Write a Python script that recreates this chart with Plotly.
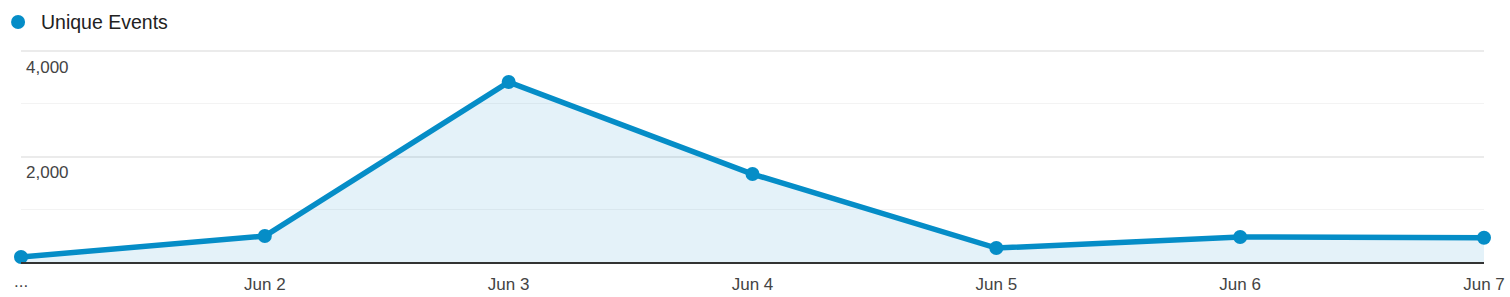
import plotly.graph_objects as go

categories = ["...", "Jun 2", "Jun 3", "Jun 4", "Jun 5", "Jun 6", "Jun 7"]
unique_events = [95, 493, 3412, 1668, 265, 474, 460]
y_tick_values = [2000, 4000]
y_tick_labels = ["2,000", "4,000"]
minor_grid_values = [1000, 3000]
series_name = "Unique Events"

BLUE = "#058dc7"
FONT = "Liberation Sans, Arial, sans-serif"

xs = list(range(len(categories)))

fig = go.Figure()
fig.add_trace(go.Scatter(
    x=xs, y=unique_events, mode="lines+markers", name=series_name,
    line=dict(color=BLUE, width=5.5),
    marker=dict(color=BLUE, size=14),
    fill="tozeroy", fillcolor="rgba(5,141,199,0.11)",
    cliponaxis=False, showlegend=False,
))

fig.update_layout(
    width=1510, height=297,
    margin=dict(l=21, r=26, t=50, b=35),
    paper_bgcolor="white", plot_bgcolor="white",
    font=dict(family=FONT, size=17, color="#444"),
    xaxis=dict(
        range=[0, len(categories) - 1],
        tickvals=xs[1:], ticktext=categories[1:],
        showgrid=False, zeroline=False, automargin=False,
        showline=True, linecolor="#333", linewidth=2,
        ticks="", ticklabelstandoff=6,
        tickfont=dict(family=FONT, size=17, color="#444"),
    ),
    yaxis=dict(
        range=[0, 4020],
        tickvals=y_tick_values, ticktext=y_tick_labels,
        ticklabelposition="inside bottom", automargin=False,
        ticklabelshift=4, ticklabelstandoff=2,
        showgrid=True, gridcolor="#ebebeb", gridwidth=2,
        zeroline=False, showline=False, ticks="",
        tickfont=dict(family=FONT, size=17, color="#444"),
        minor=dict(tickvals=minor_grid_values, showgrid=True,
                   gridcolor="#f3f3f3", gridwidth=1),
    ),
    showlegend=False,
)

# first (truncated) category label
fig.add_annotation(text=categories[0], xref="x", yref="paper",
                   x=xs[0], y=0, xanchor="center", yanchor="top",
                   yshift=-8, showarrow=False,
                   font=dict(family=FONT, size=17, color="#444"))

# Legend-like header
fig.add_shape(type="circle", xref="paper", yref="paper",
              xsizemode="pixel", ysizemode="pixel",
              xanchor=-0.002, yanchor=1.0,
              x0=-7, x1=7, y0=21, y1=35,
              line=dict(width=0), fillcolor=BLUE, layer="above")
fig.add_annotation(text=series_name, xref="paper", yref="paper",
                   x=0.0126, y=1.0, xanchor="left", yanchor="middle",
                   yshift=28, showarrow=False,
                   font=dict(family=FONT, size=19.5, color="#222"))

fig.write_html("out.html")
